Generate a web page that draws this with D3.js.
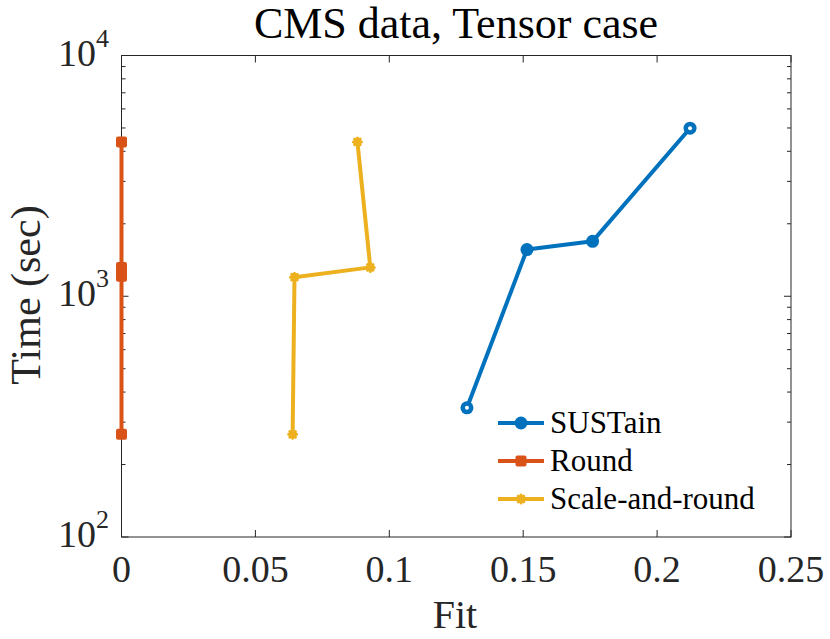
<!DOCTYPE html>
<html>
<head>
<meta charset="utf-8">
<script src="https://cdn.jsdelivr.net/npm/d3@7"></script>
<style>
  body { margin: 0; background: #fff; }
  svg { display: block; font-family: "Liberation Serif", "DejaVu Serif", serif; }
</style>
</head>
<body>
<svg id="chart" width="830" height="639"></svg>
<script>
// Data (Fit vs Time in seconds, log y).
const seriesNames = ['SUSTain', 'Round', 'Scale-and-round'];
const sustainFit = [0.129, 0.1514, 0.1759, 0.2123];
const sustainTime = [344, 1563, 1691, 4990];
const roundFit = [0, 0, 0, 0];
const roundTime = [4375, 1318, 1211, 267];
const scaleFit = [0.0881, 0.0929, 0.0646, 0.0639];
const scaleTime = [4375, 1318, 1200, 267];
const xTicks = [0, 0.05, 0.1, 0.15, 0.2, 0.25];
const xTickLabels = ['0', '0.05', '0.1', '0.15', '0.2', '0.25'];
const yDecades = [2, 3, 4];

const colors = ['#0072BD', '#D95319', '#EDB120'];

const svg = d3.select('#chart');
const m = { left: 121.5, top: 55.5, right: 791, bottom: 537 };
const x = d3.scaleLinear().domain([0, 0.25]).range([m.left, m.right]);
const y = d3.scaleLog().domain([100, 10000]).range([m.bottom, m.top]);
const axisColor = '#262626';

// axes box
const ax = svg.append('g');
ax.append('rect').attr('x', m.left).attr('y', m.top)
  .attr('width', m.right - m.left).attr('height', m.bottom - m.top)
  .attr('fill', 'none').attr('stroke', axisColor).attr('stroke-width', 1);

// x ticks (inward, bottom and top)
xTicks.forEach((t, i) => {
  const px = x(t);
  ax.append('line').attr('x1', px).attr('x2', px).attr('y1', m.bottom).attr('y2', m.bottom - 7)
    .attr('stroke', axisColor);
  ax.append('line').attr('x1', px).attr('x2', px).attr('y1', m.top).attr('y2', m.top + 7)
    .attr('stroke', axisColor);
  ax.append('text').attr('x', px).attr('y', 582).attr('text-anchor', 'middle')
    .attr('font-size', 38).attr('fill', axisColor).text(xTickLabels[i]);
});

// y ticks: major decades + minor 2..9
const minor = [];
for (let d = 2; d < 4; d++) for (let k = 2; k <= 9; k++) minor.push(k * Math.pow(10, d));
minor.forEach(v => {
  const py = y(v);
  ax.append('line').attr('x1', m.left).attr('x2', m.left + 4).attr('y1', py).attr('y2', py).attr('stroke', axisColor);
  ax.append('line').attr('x1', m.right).attr('x2', m.right - 4).attr('y1', py).attr('y2', py).attr('stroke', axisColor);
});
yDecades.forEach(d => {
  const py = y(Math.pow(10, d));
  ax.append('line').attr('x1', m.left).attr('x2', m.left + 7).attr('y1', py).attr('y2', py).attr('stroke', axisColor);
  ax.append('line').attr('x1', m.right).attr('x2', m.right - 7).attr('y1', py).attr('y2', py).attr('stroke', axisColor);
  const t = ax.append('text').attr('x', 109).attr('y', py + 10).attr('text-anchor', 'end')
    .attr('font-size', 38).attr('fill', axisColor);
  t.append('tspan').text('10');
  t.append('tspan').attr('dy', -19).attr('font-size', 26).text(String(d));
});

// lines
const line = d3.line().x(d => x(d[0])).y(d => y(d[1]));
const series = [
  { fit: sustainFit, time: sustainTime, marker: 'circle' },
  { fit: roundFit, time: roundTime, marker: 'square' },
  { fit: scaleFit, time: scaleTime, marker: 'star' }
];
const plot = svg.append('g');
series.forEach((s, i) => {
  const pts = s.fit.map((f, j) => [f, s.time[j]]);
  plot.append('path').attr('d', line(pts)).attr('fill', 'none')
    .attr('stroke', colors[i]).attr('stroke-width', 4).attr('stroke-linejoin', 'round');
});

function drawMarker(g, kind, cx, cy, color, hollow) {
  if (kind === 'circle') {
    g.append('circle').attr('cx', cx).attr('cy', cy).attr('r', 6.5).attr('fill', color);
    if (hollow) g.append('circle').attr('cx', cx).attr('cy', cy).attr('r', 2).attr('fill', '#fff');
  } else if (kind === 'square') {
    g.append('rect').attr('x', cx - 5.5).attr('y', cy - 5.5).attr('width', 11).attr('height', 11)
      .attr('rx', 2).attr('fill', color);
  } else {
    // asterisk
    const r = 4;
    const d = r * 0.7;
    g.append('path')
      .attr('d', `M${cx - r},${cy}L${cx + r},${cy}M${cx},${cy - r}L${cx},${cy + r}` +
        `M${cx - d},${cy - d}L${cx + d},${cy + d}M${cx - d},${cy + d}L${cx + d},${cy - d}`)
      .attr('stroke', color).attr('stroke-width', 3).attr('stroke-linecap', 'round');
  }
}
series.forEach((s, i) => {
  s.fit.forEach((f, j) => {
    const hollow = i === 0 && (j === 0 || j === s.fit.length - 1);
    drawMarker(plot, s.marker, x(f), y(s.time[j]), colors[i], hollow);
  });
});

// legend
const lg = svg.append('g');
const legendY = [423, 461, 499];
seriesNames.forEach((name, i) => {
  const ly = legendY[i];
  lg.append('line').attr('x1', 498).attr('x2', 544).attr('y1', ly).attr('y2', ly)
    .attr('stroke', colors[i]).attr('stroke-width', 4);
  drawMarker(lg, series[i].marker, 521, ly, colors[i], false);
  lg.append('text').attr('x', 550).attr('y', ly + 10).attr('font-size', 31).attr('fill', '#000').text(name);
});

// title and axis labels
svg.append('text').attr('x', 456).attr('y', 38).attr('text-anchor', 'middle')
  .attr('font-size', 44).attr('fill', '#000').text('CMS data, Tensor case');
svg.append('text').attr('x', 455).attr('y', 628).attr('text-anchor', 'middle')
  .attr('font-size', 40).attr('fill', axisColor).text('Fit');
svg.append('text').attr('transform', 'translate(40,295) rotate(-90)').attr('text-anchor', 'middle')
  .attr('font-size', 42).attr('fill', axisColor).text('Time (sec)');
</script>
</body>
</html>
